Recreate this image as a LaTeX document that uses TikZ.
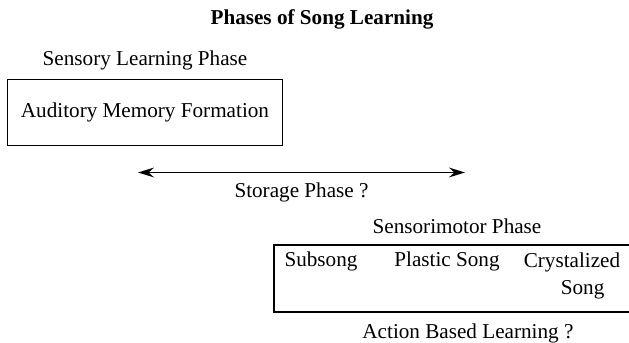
\documentclass[tikz,border=0pt]{standalone}
\usepackage{fontspec}
\setmainfont{Liberation Serif}
\usetikzlibrary{positioning, arrows.meta}
\tikzset{
  phase box/.style={draw, line width=0.6pt, inner sep=0pt, font=\fontsize{12}{14}\selectfont},
  phase label/.style={inner sep=0pt, font=\fontsize{12}{14}\selectfont},
  song stage/.style={inner sep=0pt, anchor=base, font=\fontsize{12}{15.5}\selectfont},
  title/.style={inner sep=0pt, anchor=base, font=\fontsize{12}{14}\selectfont\bfseries},
  storage arrow/.style={{Stealth[length=9pt, width=5.5pt, inset=3pt]}-{Stealth[length=9pt, width=5.5pt, inset=3pt]}, line width=1.1pt},
}

\begin{document}
\begin{tikzpicture}[x=0.567pt, y=-0.567pt]
  \useasboundingbox (0,0) rectangle (629,343);
  \node[title] (title) at (322,25) {Phases of Song Learning};

  % sensory learning
  \node[phase box, minimum width=155.4pt, minimum height=36.9pt] (memory) at (145,112.5) {Auditory Memory Formation};
  \node[phase label, above=4.9pt of memory] (sensory) {Sensory Learning Phase};

  % storage
  \coordinate (store L) at (138,172.5);
  \coordinate (store R) at (465,172.5);
  \draw[storage arrow] (store L) -- (store R)
    node[phase label, midway, below=5.5pt] (storage) {Storage Phase ?};

  % sensorimotor
  \node[phase box, minimum width=207.5pt, minimum height=38pt] (motor) at (457,278.5) {};
  \node[phase label, above=5.7pt of motor] (sensorimotor) {Sensorimotor Phase};
  \node[phase label, below=6pt of motor, xshift=6.2pt] (action) {Action Based Learning ?};
  \node[song stage] (subsong) at (321,267) {Subsong};
  \node[song stage] (plastic) at (447,267) {Plastic Song};
  \node[song stage, align=center, anchor=north] (crystal) at (572,252.5) {Crystalized\\\hspace*{12pt}Song};
\end{tikzpicture}
\end{document}
